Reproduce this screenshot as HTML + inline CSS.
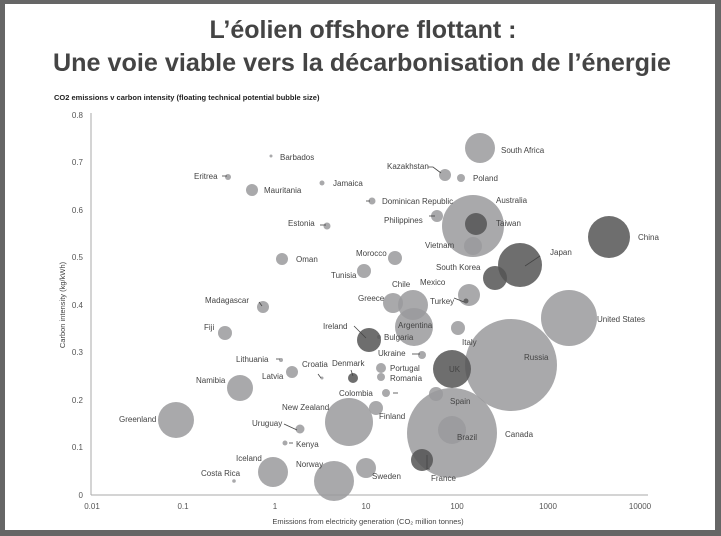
<!DOCTYPE html>
<html><head><meta charset="utf-8"><style>
body{margin:0;background:#fff;}
svg{display:block;font-family:"Liberation Sans",sans-serif;}
</style></head><body>
<svg width="721" height="536" viewBox="0 0 721 536">
<rect x="0" y="0" width="721" height="536" fill="#666"/>
<rect x="5" y="4" width="710" height="526" fill="#fff"/>
<text x="363" y="38" text-anchor="middle" font-size="25" font-weight="bold" fill="#444">L’éolien offshore flottant :</text>
<text x="362" y="71" text-anchor="middle" font-size="25" font-weight="bold" fill="#444" textLength="618" lengthAdjust="spacingAndGlyphs">Une voie viable vers la décarbonisation de l’énergie</text>
<text x="54" y="100" font-size="7.5" font-weight="bold" fill="#222">CO2 emissions v carbon intensity (floating technical potential bubble size)</text>
<g stroke="#aaa" stroke-width="1"><line x1="91" y1="113" x2="91" y2="495"/><line x1="91" y1="495" x2="648" y2="495"/></g>
<g font-size="8" fill="#555" text-anchor="end">
<text x="83" y="118">0.8</text><text x="83" y="165">0.7</text><text x="83" y="213">0.6</text><text x="83" y="260">0.5</text><text x="83" y="308">0.4</text><text x="83" y="355">0.3</text><text x="83" y="403">0.2</text><text x="83" y="450">0.1</text><text x="83" y="498">0</text>
</g>
<g font-size="8" fill="#555" text-anchor="middle">
<text x="92" y="509">0.01</text><text x="183" y="509">0.1</text><text x="275" y="509">1</text><text x="366" y="509">10</text><text x="457" y="509">100</text><text x="548" y="509">1000</text><text x="640" y="509">10000</text>
</g>
<text x="368" y="524" text-anchor="middle" font-size="7.5" fill="#444">Emissions from electricity generation (CO₂ million tonnes)</text>
<text transform="translate(65,305) rotate(-90)" text-anchor="middle" font-size="7.5" fill="#444">Carbon intensity (kg/kWh)</text>
<g fill="#9a9a9c" fill-opacity="0.85">
<circle cx="511" cy="365" r="46"/><circle cx="452" cy="433" r="45"/><circle cx="473" cy="226" r="31"/><circle cx="569" cy="318" r="28"/>
<circle cx="480" cy="148" r="15"/><circle cx="445" cy="175" r="6"/><circle cx="461" cy="178" r="4"/><circle cx="322" cy="183" r="2.5"/>
<circle cx="372" cy="201" r="3.5"/><circle cx="473" cy="246" r="9"/><circle cx="437" cy="216" r="6"/><circle cx="327" cy="226" r="3.5"/>
<circle cx="395" cy="258" r="7"/><circle cx="364" cy="271" r="7"/><circle cx="282" cy="259" r="6"/><circle cx="469" cy="295" r="11"/>
<circle cx="413" cy="305" r="15"/><circle cx="393" cy="303" r="10"/><circle cx="414" cy="327" r="19"/><circle cx="458" cy="328" r="7"/>
<circle cx="379" cy="337" r="2"/><circle cx="422" cy="355" r="4"/><circle cx="381" cy="368" r="5"/><circle cx="381" cy="377" r="4"/>
<circle cx="386" cy="393" r="4"/><circle cx="436" cy="394" r="7"/><circle cx="376" cy="408" r="7"/><circle cx="349" cy="422" r="24"/>
<circle cx="452" cy="430" r="14"/><circle cx="366" cy="468" r="10"/><circle cx="334" cy="481" r="20"/><circle cx="273" cy="472" r="15"/>
<circle cx="234" cy="481" r="1.8"/><circle cx="285" cy="443" r="2.5"/><circle cx="300" cy="429" r="4.5"/><circle cx="176" cy="420" r="18"/>
<circle cx="240" cy="388" r="13"/><circle cx="292" cy="372" r="6"/><circle cx="281" cy="360" r="2"/><circle cx="322" cy="378" r="1.5"/>
<circle cx="225" cy="333" r="7"/><circle cx="263" cy="307" r="6"/><circle cx="252" cy="190" r="6"/><circle cx="228" cy="177" r="3"/><circle cx="271" cy="156" r="1.5"/>
</g>
<g fill="#555" fill-opacity="0.85">
<circle cx="609" cy="237" r="21"/><circle cx="520" cy="265" r="22"/><circle cx="495" cy="278" r="12"/><circle cx="476" cy="224" r="11"/>
<circle cx="369" cy="340" r="12"/><circle cx="452" cy="369" r="19"/><circle cx="353" cy="378" r="5"/><circle cx="422" cy="460" r="11"/><circle cx="466" cy="301" r="2.5"/>
</g>
<g stroke="#444" stroke-width="0.8" fill="none">
<path d="M222 176h5"/><path d="M320 225h6"/><path d="M428 167h5l8 6"/><path d="M366 201h4"/><path d="M429 216h6"/>
<path d="M259 302l3 4"/><path d="M354 326l12 12"/><path d="M454 298l10 4"/><path d="M412 354h8"/><path d="M351 370l2 6"/>
<path d="M318 374l3 4"/><path d="M276 359h4"/><path d="M284 424l13 6"/><path d="M289 443h4"/><path d="M427 455v14h3"/>
<path d="M540 256l-15 10"/><path d="M398 393h-5"/>
</g>
<g font-size="8" fill="#444">
<text x="501" y="153">South Africa</text><text x="387" y="169">Kazakhstan</text><text x="473" y="181">Poland</text>
<text x="280" y="160">Barbados</text><text x="194" y="179">Eritrea</text><text x="264" y="193">Mauritania</text><text x="333" y="186">Jamaica</text>
<text x="382" y="204">Dominican Republic</text><text x="496" y="203">Australia</text><text x="384" y="223">Philippines</text><text x="496" y="226">Taiwan</text>
<text x="288" y="226">Estonia</text><text x="425" y="248">Vietnam</text><text x="638" y="240">China</text><text x="550" y="255">Japan</text>
<text x="296" y="262">Oman</text><text x="356" y="256">Morocco</text><text x="331" y="278">Tunisia</text><text x="436" y="270">South Korea</text>
<text x="420" y="285">Mexico</text><text x="392" y="287">Chile</text><text x="358" y="301">Greece</text><text x="430" y="304">Turkey</text>
<text x="205" y="303">Madagascar</text><text x="204" y="330">Fiji</text><text x="398" y="328">Argentina</text><text x="323" y="329">Ireland</text>
<text x="384" y="340">Bulgaria</text><text x="462" y="345">Italy</text><text x="597" y="322">United States</text><text x="524" y="360">Russia</text>
<text x="378" y="356">Ukraine</text><text x="236" y="362">Lithuania</text><text x="302" y="367">Croatia</text><text x="332" y="366">Denmark</text>
<text x="390" y="371">Portugal</text><text x="390" y="381">Romania</text><text x="262" y="379">Latvia</text><text x="449" y="372">UK</text>
<text x="196" y="383">Namibia</text><text x="339" y="396">Colombia</text><text x="450" y="404">Spain</text><text x="282" y="410">New Zealand</text>
<text x="379" y="419">Finland</text><text x="119" y="422">Greenland</text><text x="252" y="426">Uruguay</text><text x="457" y="440">Brazil</text>
<text x="505" y="437">Canada</text><text x="296" y="447">Kenya</text><text x="236" y="461">Iceland</text><text x="296" y="467">Norway</text>
<text x="201" y="476">Costa Rica</text><text x="372" y="479">Sweden</text><text x="431" y="481">France</text>
</g>
</svg>
</body></html>
